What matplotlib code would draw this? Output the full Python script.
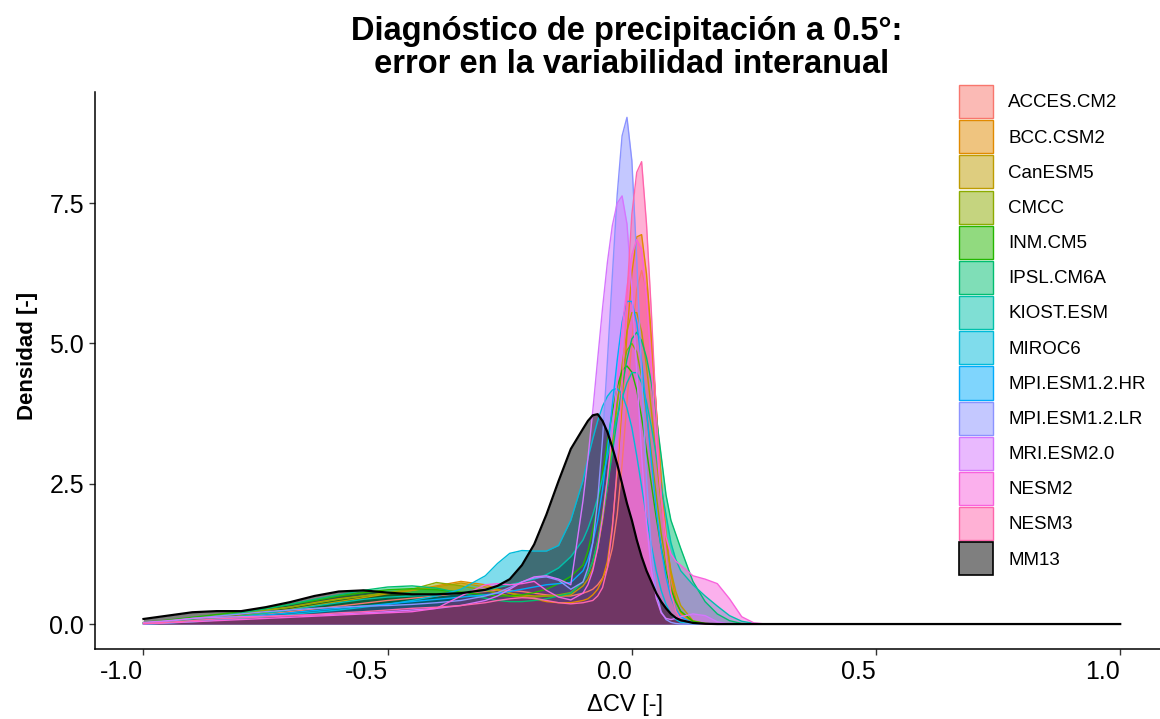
import matplotlib.pyplot as plt
from matplotlib.patches import Patch
from matplotlib.colors import to_rgba

plt.rcParams['font.family'] = ['Liberation Sans', 'DejaVu Sans']

# eje x comun (delta CV) para todas las densidades
x = [-1.0, -0.95, -0.9, -0.85, -0.8, -0.75, -0.7, -0.65, -0.6, -0.55, -0.5, -0.45, -0.4, -0.35, -0.3,
     -0.275, -0.25, -0.225, -0.2, -0.175, -0.15, -0.125, -0.1,
     -0.09, -0.08, -0.07, -0.06, -0.05, -0.04, -0.03, -0.02, -0.01, 0.0,
     0.01, 0.02, 0.03, 0.04, 0.05, 0.06, 0.07, 0.08, 0.09,
     0.1, 0.125, 0.15, 0.175, 0.2, 0.225, 0.25, 0.275, 0.3, 1.0]

acces_cm2 = [0.01, 0.03, 0.06, 0.10, 0.14, 0.18, 0.22, 0.27, 0.32, 0.37, 0.42, 0.46, 0.50, 0.55, 0.58,
             0.60, 0.60, 0.58, 0.55, 0.52, 0.50, 0.50, 0.55,
             0.58, 0.62, 0.70, 0.82, 1.00, 1.35, 1.95, 2.85, 3.95, 5.05,
             5.96, 6.30, 5.96, 5.04, 3.84, 2.60, 1.57, 0.85, 0.42,
             0.18, 0.02, 0, 0, 0, 0, 0, 0, 0, 0]
bcc_csm2 = [0.02, 0.05, 0.10, 0.15, 0.20, 0.25, 0.30, 0.38, 0.45, 0.50, 0.55, 0.60, 0.68, 0.76, 0.70,
            0.62, 0.55, 0.50, 0.45, 0.40, 0.38, 0.38, 0.42,
            0.45, 0.52, 0.62, 0.80, 1.12, 1.75, 2.70, 3.90, 5.15, 6.25,
            6.90, 6.94, 6.24, 5.13, 3.83, 2.58, 1.59, 0.88, 0.45,
            0.20, 0.02, 0, 0, 0, 0, 0, 0, 0, 0]
canesm5 = [0.01, 0.03, 0.06, 0.10, 0.15, 0.20, 0.26, 0.33, 0.40, 0.47, 0.54, 0.60, 0.66, 0.73, 0.66,
           0.60, 0.55, 0.52, 0.50, 0.50, 0.50, 0.52, 0.68,
           0.80, 1.00, 1.35, 1.85, 2.45, 3.15, 3.90, 4.62, 5.22, 5.55,
           5.55, 5.21, 4.59, 3.81, 2.97, 2.16, 1.49, 0.95, 0.58,
           0.33, 0.06, 0.01, 0, 0, 0, 0, 0, 0, 0]
cmcc = [0.02, 0.05, 0.09, 0.13, 0.18, 0.24, 0.30, 0.37, 0.44, 0.50, 0.56, 0.62, 0.74, 0.68, 0.60,
        0.55, 0.50, 0.48, 0.48, 0.50, 0.52, 0.56, 0.75,
        0.90, 1.12, 1.48, 1.98, 2.60, 3.28, 3.95, 4.52, 4.88, 5.00,
        4.85, 4.41, 3.77, 3.03, 2.29, 1.62, 1.08, 0.68, 0.40,
        0.22, 0.04, 0, 0, 0, 0, 0, 0, 0, 0]
inm_cm5 = [0.03, 0.07, 0.12, 0.17, 0.22, 0.28, 0.35, 0.42, 0.50, 0.56, 0.61, 0.63, 0.61, 0.57, 0.52,
           0.50, 0.50, 0.52, 0.56, 0.62, 0.72, 0.85, 1.05,
           1.30, 1.68, 2.15, 2.70, 3.25, 3.78, 4.22, 4.52, 4.60, 4.49,
           4.17, 3.68, 3.10, 2.49, 1.89, 1.37, 0.94, 0.62, 0.39,
           0.23, 0.05, 0.01, 0, 0, 0, 0, 0, 0, 0]
ipsl_cm6a = [0.02, 0.05, 0.09, 0.14, 0.20, 0.27, 0.35, 0.44, 0.52, 0.60, 0.66, 0.68, 0.64, 0.55, 0.46,
             0.42, 0.40, 0.40, 0.42, 0.45, 0.50, 0.55, 0.75,
             0.90, 1.12, 1.45, 1.90, 2.45, 3.05, 3.65, 4.22, 4.72, 5.08,
             5.20, 5.05, 4.75, 4.30, 3.70, 3.00, 2.30, 1.85, 1.60,
             1.35, 0.76, 0.40, 0.18, 0.06, 0.01, 0, 0, 0, 0]
kiost_esm = [0.01, 0.03, 0.06, 0.10, 0.14, 0.19, 0.25, 0.32, 0.38, 0.44, 0.48, 0.50, 0.52, 0.55, 0.60,
             0.65, 0.70, 0.75, 0.80, 0.88, 1.00, 1.20, 1.50,
             1.70, 1.95, 2.25, 2.60, 2.98, 3.35, 3.70, 4.02, 4.30, 4.48,
             4.48, 4.30, 3.96, 3.52, 3.00, 2.46, 1.94, 1.45, 1.15,
             0.95, 0.70, 0.50, 0.32, 0.15, 0.05, 0.01, 0, 0, 0]
miroc6 = [0.00, 0.02, 0.04, 0.07, 0.10, 0.13, 0.17, 0.21, 0.25, 0.30, 0.35, 0.42, 0.50, 0.62, 0.86,
          1.08, 1.26, 1.31, 1.30, 1.30, 1.40, 1.85, 2.56,
          2.95, 3.30, 3.62, 3.88, 4.06, 4.17, 4.20, 4.10, 3.85, 3.50,
          3.00, 2.45, 1.90, 1.40, 0.95, 0.60, 0.35, 0.18, 0.08,
          0.03, 0, 0, 0, 0, 0, 0, 0, 0, 0]
mpi_hr = [0.00, 0.02, 0.05, 0.08, 0.12, 0.16, 0.20, 0.24, 0.28, 0.32, 0.36, 0.40, 0.44, 0.48, 0.52,
          0.55, 0.58, 0.62, 0.66, 0.70, 0.72, 0.74, 0.95,
          1.15, 1.45, 1.85, 2.40, 3.10, 3.90, 4.70, 5.38, 5.75, 5.75,
          5.37, 4.67, 3.80, 2.90, 2.03, 1.35, 0.84, 0.47, 0.26,
          0.13, 0.02, 0, 0, 0, 0, 0, 0, 0, 0]
mpi_lr = [0.02, 0.05, 0.10, 0.14, 0.18, 0.22, 0.25, 0.28, 0.30, 0.32, 0.33, 0.35, 0.38, 0.42, 0.50,
          0.56, 0.65, 0.75, 0.82, 0.84, 0.78, 0.62, 0.75,
          1.00, 1.45, 2.20, 3.30, 4.70, 6.20, 7.65, 8.70, 9.03, 8.26,
          6.50, 4.45, 2.60, 1.32, 0.57, 0.22, 0.08, 0.03, 0.01,
          0, 0, 0, 0, 0, 0, 0, 0, 0, 0]
mri_esm2 = [0.03, 0.06, 0.10, 0.12, 0.13, 0.14, 0.15, 0.16, 0.18, 0.20, 0.22, 0.25, 0.28, 0.33, 0.42,
            0.50, 0.62, 0.75, 0.84, 0.86, 0.80, 0.70, 2.20,
            2.95, 3.80, 4.72, 5.63, 6.45, 7.10, 7.50, 7.63, 7.13, 5.97,
            4.50, 3.00, 1.80, 0.97, 0.46, 0.20, 0.10, 0.08, 0.10,
            0.13, 0.18, 0.15, 0.04, 0, 0, 0, 0, 0, 0]
nesm2 = [0.00, 0.02, 0.04, 0.06, 0.08, 0.10, 0.12, 0.14, 0.16, 0.18, 0.20, 0.22, 0.28, 0.50, 0.70,
         0.72, 0.70, 0.72, 0.76, 0.60, 0.48, 0.43, 0.55,
         0.70, 0.95, 1.35, 1.90, 2.60, 3.43, 4.33, 5.25, 6.00, 6.58,
         6.85, 6.68, 5.83, 4.58, 3.25, 2.26, 1.55, 1.25, 1.12,
         1.05, 0.86, 0.80, 0.72, 0.45, 0.13, 0.02, 0, 0, 0]
nesm3 = [0.01, 0.03, 0.06, 0.09, 0.11, 0.13, 0.15, 0.17, 0.20, 0.22, 0.25, 0.28, 0.30, 0.33, 0.38,
         0.42, 0.45, 0.47, 0.46, 0.42, 0.38, 0.36, 0.38,
         0.40, 0.42, 0.50, 0.65, 1.00, 1.70, 2.80, 4.25, 5.85, 7.30,
         8.05, 8.24, 7.13, 5.55, 3.77, 2.27, 1.20, 0.56, 0.23,
         0.08, 0.02, 0, 0, 0, 0, 0, 0, 0, 0]
mm13 = [0.09, 0.15, 0.21, 0.23, 0.23, 0.30, 0.39, 0.50, 0.58, 0.60, 0.56, 0.53, 0.53, 0.55, 0.61,
        0.68, 0.80, 1.05, 1.42, 1.95, 2.55, 3.12, 3.48,
        3.62, 3.72, 3.74, 3.62, 3.42, 3.15, 2.85, 2.50, 2.15, 1.85,
        1.50, 1.20, 0.95, 0.75, 0.55, 0.40, 0.28, 0.18, 0.11,
        0.07, 0.02, 0.005, 0, 0, 0, 0, 0, 0, 0]

modelos = ["ACCES.CM2", "BCC.CSM2", "CanESM5", "CMCC", "INM.CM5", "IPSL.CM6A", "KIOST.ESM",
           "MIROC6", "MPI.ESM1.2.HR", "MPI.ESM1.2.LR", "MRI.ESM2.0", "NESM2", "NESM3"]
densidades = [acces_cm2, bcc_csm2, canesm5, cmcc, inm_cm5, ipsl_cm6a, kiost_esm,
              miroc6, mpi_hr, mpi_lr, mri_esm2, nesm2, nesm3]
colores = ["#F8766D", "#E18A00", "#BE9C00", "#8CAB00", "#24B700", "#00BE70", "#00C1AB",
           "#00BBDA", "#00ACFC", "#8B93FF", "#D575FE", "#F962DD", "#FF65AC"]

fig = plt.figure(figsize=(11.6, 7.19), dpi=100)
ax = fig.add_axes([0.0816, 0.0968, 0.9262, 0.7759])

for dens, col in zip(densidades, colores):
    ax.fill_between(x, dens, color=col, alpha=0.5, lw=0)
    ax.plot(x, dens, color=col, lw=1.0)
ax.fill_between(x, mm13, color="black", alpha=0.5, lw=0)
ax.plot(x, mm13, color="black", lw=1.6)

ax.set_xlim(-1.1, 1.1)
ax.set_ylim(-0.452, 9.49)
ax.set_xticks([-1.0, -0.5, 0.0, 0.5, 1.0])
ax.set_xticklabels(["-1.0", "-0.5", "0.0", "0.5", "1.0"], ha="right")
ax.set_yticks([0.0, 2.5, 5.0, 7.5])
ax.set_yticklabels(["0.0", "2.5", "5.0", "7.5"])
ax.tick_params(labelsize=18, length=4, width=1, color="#333333", labelcolor="black")
for s in ["top", "right"]:
    ax.spines[s].set_visible(False)
for s in ["left", "bottom"]:
    ax.spines[s].set_linewidth(1.1)

fig.text(627 / 1160, 1 - 16 / 719,
         "Diagnóstico de precipitación a 0.5°:\n error en la variabilidad interanual",
         ha="center", va="top", fontsize=23.5, fontweight="bold", linespacing=1.07)
fig.text(28 / 1160, 1 - 356 / 719, "Densidad [-]", rotation=90, ha="center", va="center",
         fontsize=16, fontweight="bold")
fig.text(625 / 1160, 1 - 705 / 719, "ΔCV [-]", ha="center", va="center", fontsize=17)

handles = [Patch(facecolor=to_rgba(c, 0.5), edgecolor=c, lw=1.0) for c in colores]
handles.append(Patch(facecolor=to_rgba("black", 0.5), edgecolor="black", lw=1.2))
fig.legend(handles, modelos + ["MM13"], loc="upper left", bbox_to_anchor=(959 / 1160, 1 - 85 / 719),
           frameon=False, borderpad=0, borderaxespad=0, fontsize=13.5,
           handlelength=1.83, handleheight=2.34, labelspacing=0.11, handletextpad=0.8)

fig.savefig("out.png", dpi=100)
